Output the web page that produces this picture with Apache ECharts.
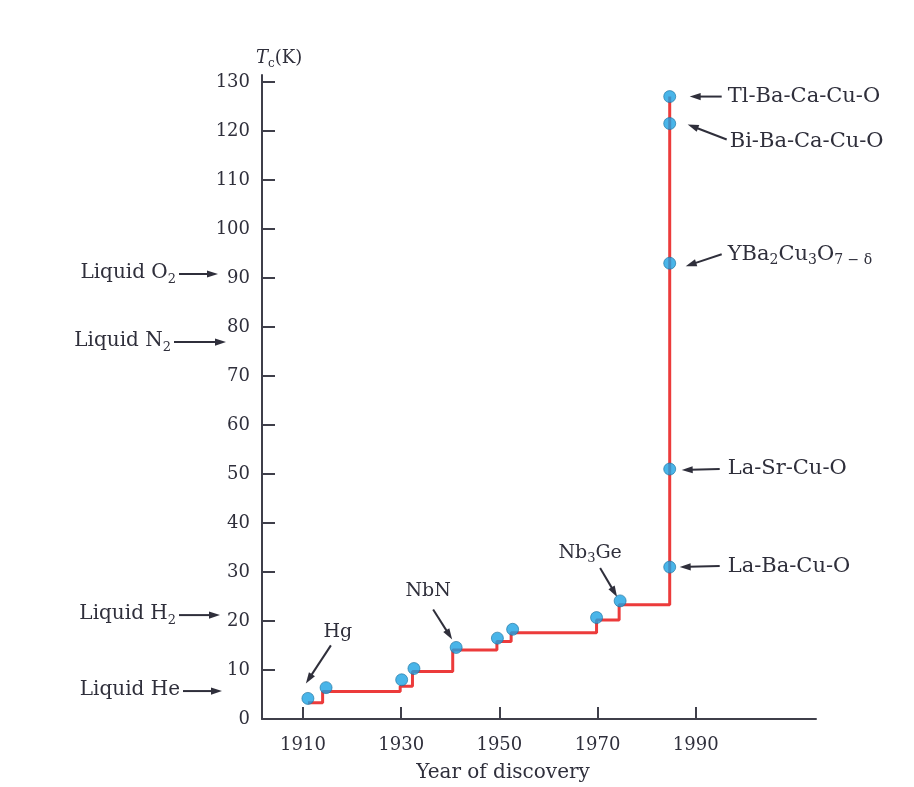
<!DOCTYPE html>
<html><head><meta charset="utf-8">
<script src="https://cdn.jsdelivr.net/npm/echarts@6/dist/echarts.min.js"></script>
<style>html,body{margin:0;padding:0;background:#fff}#c{width:914px;height:787px}</style>
</head><body><div id="c"></div>
<script>
// ---- data ----
const xTicks = [1910, 1930, 1950, 1970, 1990];
const yTicks = [0, 10, 20, 30, 40, 50, 60, 70, 80, 90, 100, 110, 120, 130];
// record Tc step curve (year, Tc in K)
const stepYears = [1911, 1914.0, 1929.8, 1932.3, 1940.5, 1949.5, 1952.4, 1969.8, 1974.4, 1984.7];
const stepTc    = [3.3, 5.6, 6.7, 9.7, 14.1, 15.8, 17.6, 20.2, 23.3, 127];
// discovered superconductors (dots)
const pointYears = [1911, 1914.7, 1930.1, 1932.6, 1941.2, 1949.6, 1952.7, 1969.8, 1974.6, 1984.7, 1984.7, 1984.7, 1984.7, 1984.7];
const pointTc    = [4.2, 6.4, 8.0, 10.3, 14.6, 16.5, 18.3, 20.7, 24.1, 31, 51, 93, 121.5, 127];
const pointNames = ['Hg', '', '', '', 'NbN', '', '', '', 'Nb{s|3}Ge', 'La-Ba-Cu-O', 'La-Sr-Cu-O',
                    'YBa{s|2}Cu{s|3}O{s|7 − δ}', 'Bi-Ba-Ca-Cu-O', 'Tl-Ba-Ca-Cu-O'];
// liquefied gases (boiling point markers on the Tc axis)
const liquidNames = ['Liquid O{s|2}', 'Liquid N{s|2}', 'Liquid H{s|2}', 'Liquid He'];
const liquidTc    = [90.8, 76.9, 21.2, 5.7];
const xAxisTitle = 'Year of discovery';
const yAxisTitle = '{i|T}{s|c}(K)';

// ---- styles ----
const FONT = 'DejaVu Serif';
const INK = '#2f2f3b';
const AXIS = '#3f3f4a';

const chart = echarts.init(document.getElementById('c'), null, {renderer: 'canvas'});
chart.setOption({
  backgroundColor: '#ffffff',
  animation: false,
  grid: {left: 262, right: 98, top: 75, bottom: 68, containLabel: false},
  xAxis: {
    type: 'value', min: 1901.65, max: 2014.5,
    axisLine: {lineStyle: {color: AXIS, width: 2}},
    axisTick: {inside: true, length: 12, lineStyle: {color: AXIS, width: 2}, customValues: xTicks},
    axisLabel: {customValues: xTicks, formatter: v => String(v), color: INK, fontFamily: FONT, fontSize: 18, margin: 17},
    splitLine: {show: false}
  },
  yAxis: {
    type: 'value', min: 0, max: 131.4,
    axisLine: {show: true, lineStyle: {color: AXIS, width: 2}},
    axisTick: {show: true, inside: true, length: 13, lineStyle: {color: AXIS, width: 2}, customValues: yTicks},
    axisLabel: {customValues: yTicks, formatter: v => String(v), color: INK, fontFamily: FONT, fontSize: 18, margin: 12},
    splitLine: {show: false}
  },
  series: [
    {
      type: 'line', step: 'end', showSymbol: false, z: 2,
      data: stepYears.map((x, i) => [x, stepTc[i]]),
      lineStyle: {color: '#ec3b3b', width: 3}
    },
    {
      type: 'scatter', z: 3, symbolSize: 12,
      data: pointYears.map((x, i) => [x, pointTc[i]]),
      itemStyle: {color: '#1ca2e4', borderColor: '#1b6f9e', borderWidth: 0.8}
    }
  ]
});

// ---- annotations ----
function arrow(x1, y1, x2, y2) {
  const a = Math.atan2(y2 - y1, x2 - x1), L = 11, W = 3.6;
  const bx = x2 - L * Math.cos(a), by = y2 - L * Math.sin(a);
  const ox = -Math.sin(a) * W, oy = Math.cos(a) * W;
  return [
    {type: 'line', silent: true, shape: {x1: x1, y1: y1, x2: bx + Math.cos(a) * 2, y2: by + Math.sin(a) * 2},
     style: {stroke: INK, lineWidth: 2}},
    {type: 'polygon', silent: true, shape: {points: [[x2, y2], [bx + ox, by + oy], [bx - ox, by - oy]]},
     style: {fill: INK}}
  ];
}
const rich = (size) => ({
  s: {fontSize: Math.round(size * 0.66), fontFamily: FONT, fill: INK, verticalAlign: 'bottom', lineHeight: Math.round(size * 0.66)},
  i: {fontSize: size, fontFamily: FONT, fontStyle: 'italic', fill: INK, lineHeight: size + 6}
});
function label(text, x, y, size, align) {
  return {type: 'text', silent: true, x: x, y: y,
    style: {text: text, fill: INK, font: size + 'px "' + FONT + '"', fontFamily: FONT, fontSize: size,
      lineHeight: size + 6, align: align || 'left', verticalAlign: 'middle', rich: rich(size)}};
}

const G = [];
const P = (x, y) => chart.convertToPixel({gridIndex: 0}, [x, y]);

// liquid gas markers on the left
const liquidTextEnd = [176, 171, 176, 180];
const liquidTip = [218, 226, 220, 222];
liquidNames.forEach((n, i) => {
  const y = P(1910, liquidTc[i])[1];
  G.push(label(n, liquidTextEnd[i], y - 1, 20, 'right'));
  G.push(...arrow(liquidTextEnd[i] + 3, y, liquidTip[i], y));
});

// material labels: [tipDx, tipDy, tailDx, tailDy, textDx, textDy, size, align]
const ann = {
  0:  [-2, -15, 23, -53, 30, -66, 19, 'center'],
  4:  [-4, -8, -23, -38, -28, -56, 19, 'center'],
  8:  [-3, -4, -20, -33, -30, -48, 19, 'center'],
  9:  [10, 0, 50, -1, 58, -1, 21, 'left'],
  10: [12, 1, 50, 0, 58, 0, 21, 'left'],
  11: [16, 3, 52, -9, 58, -9, 21, 'left'],
  12: [18, 1, 57, 16, 60, 18, 21, 'left'],
  13: [20, 0, 52, 0, 58, 0, 21, 'left']
};
Object.keys(ann).forEach(k => {
  const [dx, dy] = P(pointYears[k], pointTc[k]);
  const a = ann[k];
  G.push(...arrow(dx + a[2], dy + a[3], dx + a[0], dy + a[1]));
  G.push(label(pointNames[k], dx + a[4], dy + a[5], a[6], a[7]));
});

// axis titles
G.push(label(yAxisTitle, 256, 58, 18, 'left'));
G.push(label(xAxisTitle, 503, 773, 20, 'center'));

chart.setOption({graphic: G});
</script>
</body></html>
